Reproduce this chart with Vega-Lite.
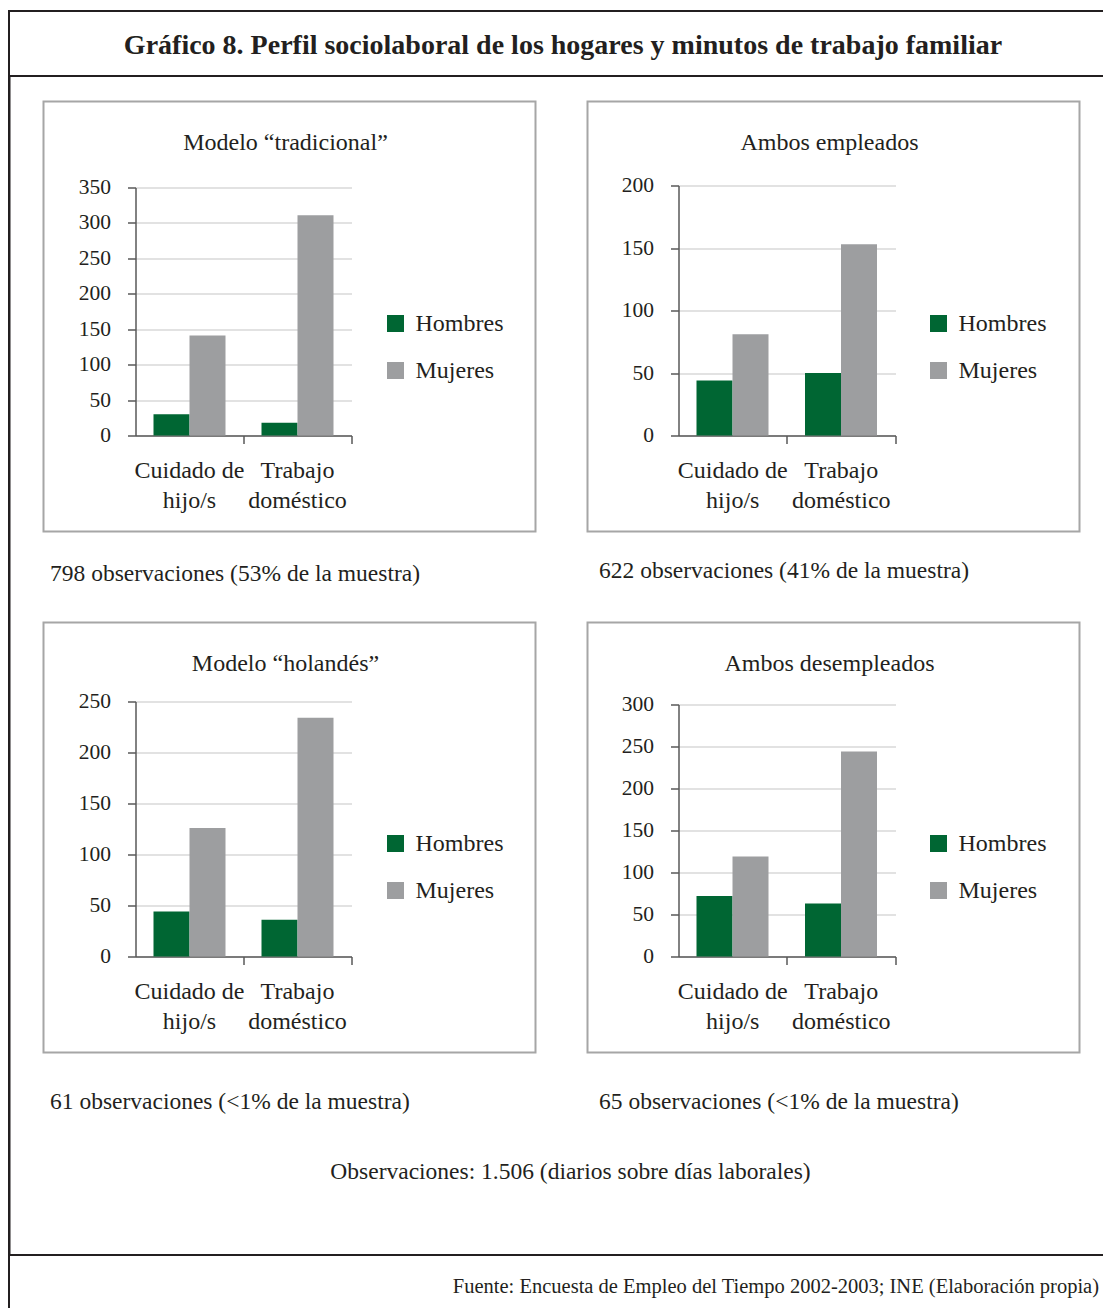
{
  "$schema": "https://vega.github.io/schema/vega-lite/v6.json",
  "padding": {"left": 8, "top": 10, "right": 0, "bottom": 0},
  "background": "white",
  "config": {
    "font": "Liberation Serif",
    "view": {"stroke": null},
    "title": {"fontSize": 24, "fontWeight": "normal", "color": "#231f20", "font": "Liberation Serif"},
    "axisX": {
      "bandPosition": 1, "grid": false,
      "domainColor": "#595959", "domainWidth": 1.5, "tickColor": "#595959", "tickSize": 8, "tickWidth": 1.5,
      "labelAngle": 0, "labelFontSize": 24, "labelColor": "#231f20", "labelLineHeight": 30, "labelPadding": 15,
      "labelExpr": "datum.value == 'Cuidado de hijo/s' ? ['Cuidado de', 'hijo/s'] : datum.value == 'Trabajo doméstico' ? ['Trabajo', 'doméstico'] : ''",
      "titleFontSize": 23.5, "titleFontWeight": "normal", "titleColor": "#231f20", "titleAlign": "left", "titleBaseline": "middle"
    },
    "axisY": {
      "domainColor": "#595959", "domainWidth": 1.5, "tickColor": "#595959", "tickSize": 8, "tickWidth": 1.5,
      "labelFontSize": 21.5, "labelColor": "#231f20", "labelPadding": 17, "gridColor": "#d9d9d9", "gridWidth": 1.5
    },
    "legend": {
      "symbolType": "square", "symbolSize": 289, "symbolStrokeWidth": 0, "labelFontSize": 24, "labelColor": "#231f20",
      "labelOffset": 8, "rowPadding": 23, "padding": 0
    }
  },
  "datasets": {
    "minutos": [
      {"panel": "tradicional", "actividad": "Cuidado de hijo/s", "sexo": "Hombres", "minutos": 30},
      {"panel": "tradicional", "actividad": "Cuidado de hijo/s", "sexo": "Mujeres", "minutos": 141},
      {"panel": "tradicional", "actividad": "Trabajo doméstico", "sexo": "Hombres", "minutos": 18},
      {"panel": "tradicional", "actividad": "Trabajo doméstico", "sexo": "Mujeres", "minutos": 311},
      {"panel": "empleados", "actividad": "Cuidado de hijo/s", "sexo": "Hombres", "minutos": 44},
      {"panel": "empleados", "actividad": "Cuidado de hijo/s", "sexo": "Mujeres", "minutos": 81},
      {"panel": "empleados", "actividad": "Trabajo doméstico", "sexo": "Hombres", "minutos": 50},
      {"panel": "empleados", "actividad": "Trabajo doméstico", "sexo": "Mujeres", "minutos": 153},
      {"panel": "holandes", "actividad": "Cuidado de hijo/s", "sexo": "Hombres", "minutos": 44},
      {"panel": "holandes", "actividad": "Cuidado de hijo/s", "sexo": "Mujeres", "minutos": 126},
      {"panel": "holandes", "actividad": "Trabajo doméstico", "sexo": "Hombres", "minutos": 36},
      {"panel": "holandes", "actividad": "Trabajo doméstico", "sexo": "Mujeres", "minutos": 234},
      {"panel": "desempleados", "actividad": "Cuidado de hijo/s", "sexo": "Hombres", "minutos": 72},
      {"panel": "desempleados", "actividad": "Cuidado de hijo/s", "sexo": "Mujeres", "minutos": 119},
      {"panel": "desempleados", "actividad": "Trabajo doméstico", "sexo": "Hombres", "minutos": 63},
      {"panel": "desempleados", "actividad": "Trabajo doméstico", "sexo": "Mujeres", "minutos": 244}
    ]
  },
  "spacing": 0,
  "vconcat": [
    {
      "width": 1096, "height": 65,
      "view": {"stroke": "#231f20", "strokeWidth": 2},
      "data": {"values": [{"texto": "Gráfico 8. Perfil sociolaboral de los hogares y minutos de trabajo familiar"}]},
      "mark": {"type": "text", "fontSize": 28, "fontWeight": "bold", "color": "#231f20", "dx": 6, "dy": 2},
      "encoding": {"text": {"field": "texto"}}
    },
    {
      "spacing": 31.5,
      "hconcat": [
        {"width": 0.5, "height": 1175, "data": {"values": []}, "mark": "point", "encoding": {}, "view": {"stroke": "#231f20", "strokeWidth": 2}},
        {
          "spacing": 21.5,
          "vconcat": [
            {"width": 0.5, "height": 0.5, "data": {"values": []}, "mark": "point", "encoding": {}},
            {
              "spacing": 35,
              "vconcat": [
                {
                  "spacing": 50,
                  "resolve": {"legend": {"color": "independent"}},
                  "hconcat": [
                    {
                      "width": 492, "height": 430,
                      "view": {"stroke": "#a6a6a6", "strokeWidth": 2},
                      "title": {"text": "Modelo “tradicional”", "offset": -65, "baseline": "middle", "frame": "group", "dx": -4},
                      "data": {"name": "minutos"},
                      "transform": [{"filter": "datum.panel == 'tradicional'"}],
                      "mark": "bar",
                      "encoding": {
                        "x": {"field": "actividad", "type": "nominal", "sort": null,
                              "scale": {"range": [92, 308], "paddingInner": 0, "paddingOuter": 0},
                              "axis": {"offset": -96, "title": "798 observaciones (53% de la muestra)", "titleX": 6, "titleY": 138}},
                        "xOffset": {"field": "sexo", "type": "nominal", "scale": {"paddingInner": 0, "paddingOuter": 0.5}},
                        "y": {"field": "minutos", "type": "quantitative",
                              "scale": {"domain": [0, 350], "range": [334, 86]},
                              "axis": {"offset": -92, "title": null, "values": [0, 50, 100, 150, 200, 250, 300, 350]}},
                        "color": {"field": "sexo", "type": "nominal",
                                  "scale": {"domain": ["Hombres", "Mujeres"], "range": ["#006633", "#9d9ea0"]},
                                  "legend": {"title": null, "orient": "none", "legendX": 340, "legendY": 210}}
                      }
                    },
                    {
                      "width": 492, "height": 430,
                      "view": {"stroke": "#a6a6a6", "strokeWidth": 2},
                      "title": {"text": "Ambos empleados", "offset": -65, "baseline": "middle", "frame": "group", "dx": -4},
                      "data": {"name": "minutos"},
                      "transform": [{"filter": "datum.panel == 'empleados'"}],
                      "mark": "bar",
                      "encoding": {
                        "x": {"field": "actividad", "type": "nominal", "sort": null,
                              "scale": {"range": [91, 308], "paddingInner": 0, "paddingOuter": 0},
                              "axis": {"offset": -96, "title": "622 observaciones (41% de la muestra)", "titleX": 11, "titleY": 135}},
                        "xOffset": {"field": "sexo", "type": "nominal", "scale": {"paddingInner": 0, "paddingOuter": 0.5}},
                        "y": {"field": "minutos", "type": "quantitative",
                              "scale": {"domain": [0, 200], "range": [334, 84]},
                              "axis": {"offset": -91, "title": null, "values": [0, 50, 100, 150, 200]}},
                        "color": {"field": "sexo", "type": "nominal",
                                  "scale": {"domain": ["Hombres", "Mujeres"], "range": ["#006633", "#9d9ea0"]},
                                  "legend": {"title": null, "orient": "none", "legendX": 339, "legendY": 210}}
                      }
                    }
                  ]
                },
                {
                  "spacing": 50,
                  "resolve": {"legend": {"color": "independent"}},
                  "hconcat": [
                    {
                      "width": 492, "height": 430,
                      "view": {"stroke": "#a6a6a6", "strokeWidth": 2},
                      "title": {"text": "Modelo “holandés”", "offset": -65, "baseline": "middle", "frame": "group", "dx": -4},
                      "data": {"name": "minutos"},
                      "transform": [{"filter": "datum.panel == 'holandes'"}],
                      "mark": "bar",
                      "encoding": {
                        "x": {"field": "actividad", "type": "nominal", "sort": null,
                              "scale": {"range": [92, 308], "paddingInner": 0, "paddingOuter": 0},
                              "axis": {"offset": -96, "title": "61 observaciones (<1% de la muestra)", "titleX": 6, "titleY": 145}},
                        "xOffset": {"field": "sexo", "type": "nominal", "scale": {"paddingInner": 0, "paddingOuter": 0.5}},
                        "y": {"field": "minutos", "type": "quantitative",
                              "scale": {"domain": [0, 250], "range": [334, 79]},
                              "axis": {"offset": -92, "title": null, "values": [0, 50, 100, 150, 200, 250]}},
                        "color": {"field": "sexo", "type": "nominal",
                                  "scale": {"domain": ["Hombres", "Mujeres"], "range": ["#006633", "#9d9ea0"]},
                                  "legend": {"title": null, "orient": "none", "legendX": 340, "legendY": 209}}
                      }
                    },
                    {
                      "width": 492, "height": 430,
                      "view": {"stroke": "#a6a6a6", "strokeWidth": 2},
                      "title": {"text": "Ambos desempleados", "offset": -65, "baseline": "middle", "frame": "group", "dx": -4},
                      "data": {"name": "minutos"},
                      "transform": [{"filter": "datum.panel == 'desempleados'"}],
                      "mark": "bar",
                      "encoding": {
                        "x": {"field": "actividad", "type": "nominal", "sort": null,
                              "scale": {"range": [91, 308], "paddingInner": 0, "paddingOuter": 0},
                              "axis": {"offset": -96, "title": "65 observaciones (<1% de la muestra)", "titleX": 11, "titleY": 145}},
                        "xOffset": {"field": "sexo", "type": "nominal", "scale": {"paddingInner": 0, "paddingOuter": 0.5}},
                        "y": {"field": "minutos", "type": "quantitative",
                              "scale": {"domain": [0, 300], "range": [334, 82]},
                              "axis": {"offset": -91, "title": null, "values": [0, 50, 100, 150, 200, 250, 300]}},
                        "color": {"field": "sexo", "type": "nominal",
                                  "scale": {"domain": ["Hombres", "Mujeres"], "range": ["#006633", "#9d9ea0"]},
                                  "legend": {"title": null, "orient": "none", "legendX": 339, "legendY": 209}}
                      }
                    }
                  ]
                },
                {
                  "width": 1054, "height": 47,
                  "data": {"values": [{"texto": "Observaciones: 1.506 (diarios sobre días laborales)"}]},
                  "mark": {"type": "text", "fontSize": 23.5, "color": "#231f20", "dy": -1},
                  "encoding": {"text": {"field": "texto"}}
                }
              ]
            }
          ]
        }
      ]
    },
    {
      "width": 1096, "height": 60,
      "view": {"stroke": "#231f20", "strokeWidth": 2},
      "data": {"values": [{"texto": "Fuente: Encuesta de Empleo del Tiempo 2002-2003; INE (Elaboración propia)"}]},
      "mark": {"type": "text", "fontSize": 20.5, "color": "#231f20", "align": "right", "dx": -6, "baseline": "middle"},
      "encoding": {"text": {"field": "texto"}, "x": {"value": "width"}, "y": {"value": 32}}
    }
  ]
}
